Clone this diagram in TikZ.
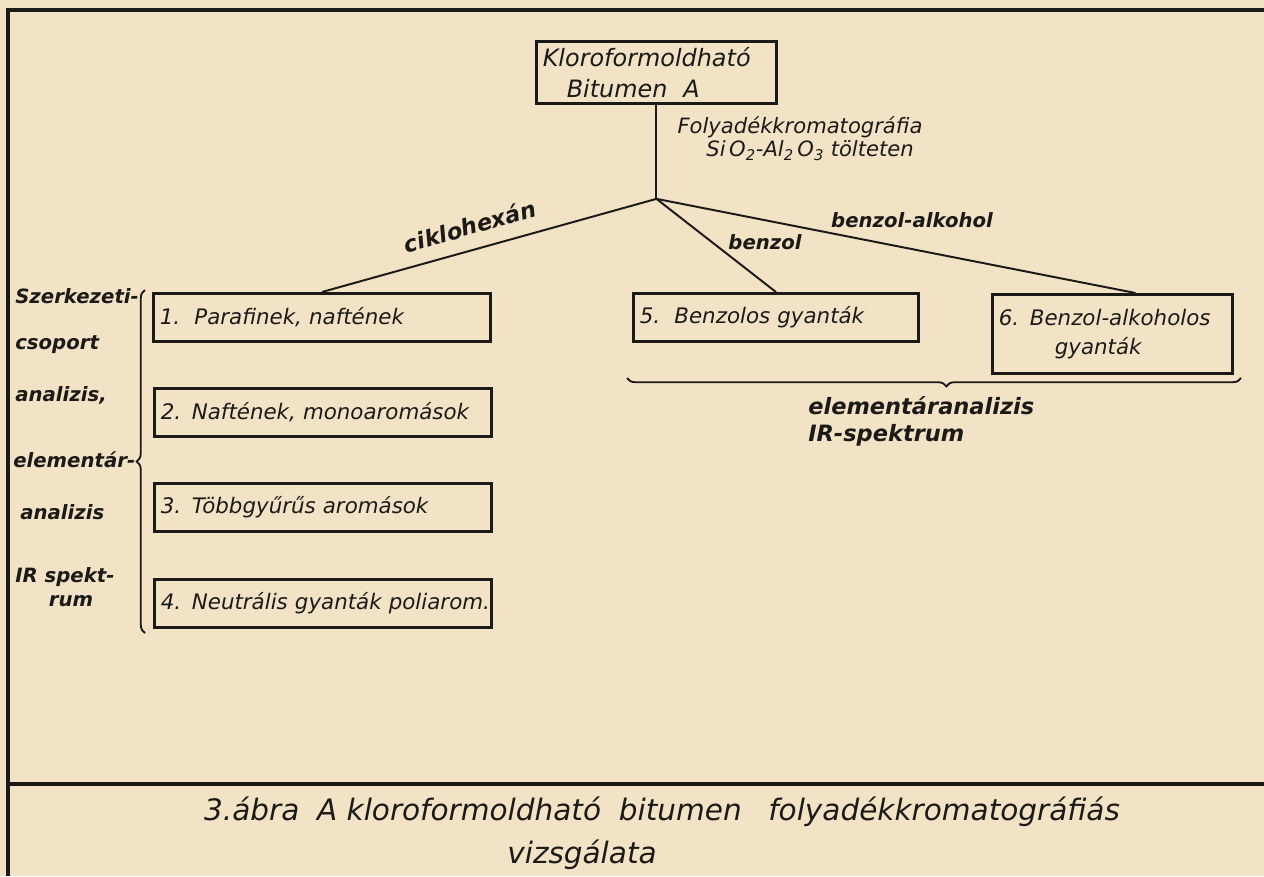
\documentclass[tikz,border=0pt]{standalone}
\usepackage{fontspec}
\setmainfont{DejaVu Sans}[ItalicFont={DejaVu Sans Oblique},BoldFont={DejaVu Sans Bold},BoldItalicFont={DejaVu Sans Bold Oblique}]
\usetikzlibrary{decorations.pathreplacing}
\definecolor{paper}{HTML}{F2E3C7}
\definecolor{inkc}{HTML}{1C1A17}
\tikzset{
  fbox/.style={draw=inkc,line width=2pt,inner xsep=0.16cm,inner ysep=0pt,align=left,anchor=north west,text=inkc,font=\itshape\fontsize{15.2}{21}\selectfont},
  lbl/.style={inner sep=0pt,text=inkc,font=\bfseries\itshape\fontsize{14}{17}\selectfont},
  ink/.style={draw=inkc,line width=1.4pt},
  brc/.style={draw=inkc,line width=1.3pt,decorate,decoration={brace,amplitude=6pt,#1}},
  brc/.default={aspect=0.5},
  frame/.style={draw=inkc,line width=2.2pt}
}
\begin{document}
\begin{tikzpicture}[x=0.025cm,y=-0.025cm]
\fill[paper](0,0) rectangle (1264,876);
\useasboundingbox(0,0) rectangle (1264,876);
\draw[frame](8,876)--(8,10)--(1264,10);
\draw[frame](8,784)--(1264,784);
\node[fbox,text width=5.68cm,minimum height=1.55cm,font=\itshape\fontsize{17}{22}\selectfont](top) at (535,40){Kloroformoldható\\\hspace*{0.6cm}Bitumen\ \ A};
\node[fbox,text width=8.105cm,minimum height=1.2cm](f1) at (152,292){1.\ \ Parafinek, naftének};
\node[fbox,text width=8.105cm,minimum height=1.2cm](f2) at (153,387){\mbox{2. Naftének, monoaromások}};
\node[fbox,text width=8.105cm,minimum height=1.2cm](f3) at (153,482){3. Többgyűrűs\ aromások};
\node[fbox,text width=8.105cm,minimum height=1.2cm](f4) at (153,578){\mbox{4. Neutrális gyanták poliarom.}};
\node[fbox,text width=6.805cm,minimum height=1.2cm](f5) at (632,292){5.\ \ Benzolos gyanták};
\node[fbox,text width=5.68cm,minimum height=1.975cm](f6) at (991,293){6. Benzol-alkoholos\\\hspace*{1.4cm}gyanták};
\coordinate(j) at ([yshift=-2.35cm]top.south);
\node[lbl,align=center,font=\itshape\fontsize{15}{16.5}\selectfont](cr) at (800,139){Folyadékkromatográfia\\\ \ \ Si\,O\textsubscript{2}-Al\textsubscript{2}\,O\textsubscript{3} tölteten};
\node[lbl,rotate=16,font=\bfseries\itshape\fontsize{16}{19}\selectfont](l1) at (470,226){ciklohexán};
\node[lbl](l5) at (765,242){benzol};
\node[lbl](l6) at (912,220){benzol-alkohol};
\path[ink](top.south)--(j);
\path[ink](j)--(f1.north);
\path[ink](j)--(f5.north);
\path[ink](j)--([xshift=0.575cm]f6.north);
\draw[brc](145,633)--(145,290);
\draw[brc={aspect=0.48}](1241,378)--(627,378);
\node[lbl,anchor=west](s1) at (15,296){Szerkezeti-};
\node[lbl,anchor=west](s2) at (15,345){csoport};
\node[lbl,anchor=west](s3) at (15,395){analizis,};
\node[lbl,anchor=west](s4) at (13,460){elementár-};
\node[lbl,anchor=west](s5) at (20,512){analizis};
\node[lbl,anchor=west](s6) at (15,577){IR spekt-};
\node[lbl](s7) at (71,601){rum};
\node[lbl,anchor=north west,align=left,font=\bfseries\itshape\fontsize{16}{19}\selectfont](el) at (808,396){elementáranalizis\\IR-spektrum};
\node[lbl,font=\itshape\fontsize{21}{25}\selectfont](c1) at (662,812){3.ábra\hspace{0.6em}A kloroformoldható\hspace{0.6em}bitumen\hspace{0.9em}folyadékkromatográfiás};
\node[lbl,font=\itshape\fontsize{21}{25}\selectfont](c2) at (582,855){vizsgálata};
\end{tikzpicture}
\end{document}
